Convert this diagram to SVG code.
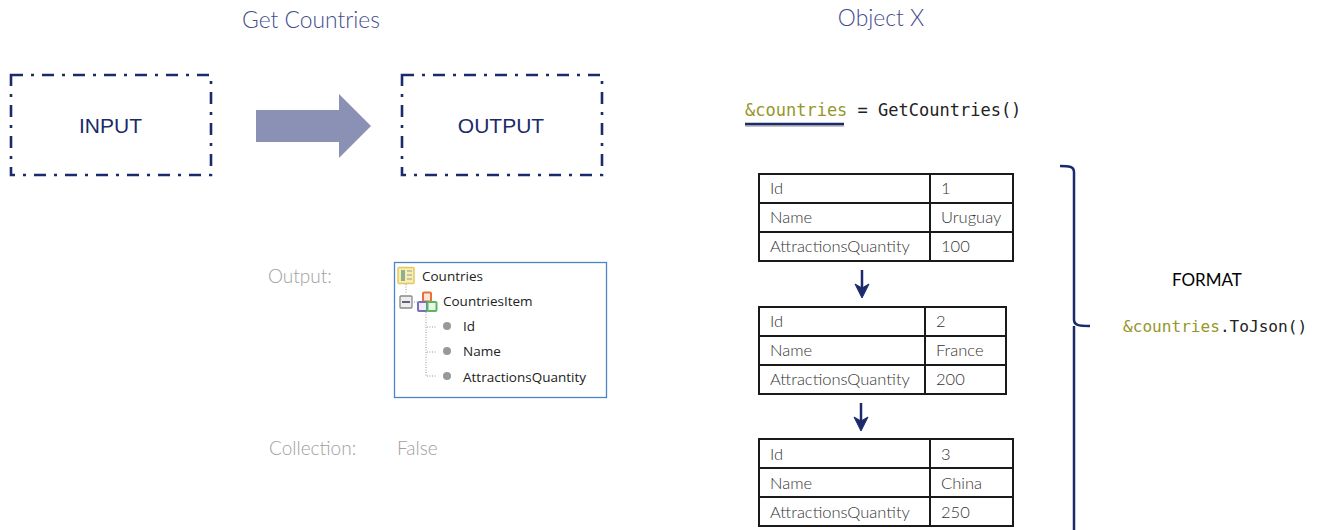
<svg xmlns="http://www.w3.org/2000/svg" width="1320" height="530" viewBox="0 0 1320 530">
<style>
text{font-family:"Lato","Liberation Sans",sans-serif}
.h{font-size:22.800px;fill:#3f4b8c;font-weight:300;opacity:.99}
.box{fill:none;stroke:#1b2a6b;stroke-width:2.600;stroke-dasharray:12 8 3 8}
.lb{font-family:"Liberation Sans",Arial,sans-serif;font-size:21px;fill:#1b2a6b}
.g{font-size:19px;fill:#a0a0a0;font-weight:300;opacity:.99}
.t{font-size:16.500px;fill:#333;font-weight:300;opacity:.99}
.cell{fill:none;stroke:#1a1a1a;stroke-width:2}
.tree{font-family:"Open Sans","Liberation Sans",sans-serif;font-size:13.500px;fill:#222}
.code{font-family:"DejaVu Sans Mono",monospace;font-size:17px;fill:#222}
.small{font-size:16.100px}
.var{fill:#96962a}
.dot{fill:#999}
.lnk{fill:none;stroke:#1b2a6b;stroke-width:2.500}
.dots{fill:none;stroke:#999;stroke-width:1;stroke-dasharray:1 1.500}
</style>
<text class="h" x="311" y="28" text-anchor="middle">Get Countries</text>
<text class="h" x="881" y="26" text-anchor="middle">Object X</text>
<g id="input"><rect class="box" x="11" y="75" width="200" height="100"/><text class="lb" x="110.500" y="133" text-anchor="middle">INPUT</text></g>
<g id="output"><rect class="box" x="402" y="75" width="200" height="100"/><text class="lb" x="501" y="133" text-anchor="middle">OUTPUT</text></g>
<g id="connectors">
<polygon points="256,110 339,110 339,94 371,126 339,158 339,142 256,142" fill="#8a91b5"/>
<path class="lnk" d="M862 270V292"/><path d="M855 284L862 298L869 284L862 288Z" fill="#1b2a6b" stroke="#1b2a6b"/>
<path class="lnk" d="M861 403V425"/><path d="M854 417L861 431L868 417L861 421Z" fill="#1b2a6b" stroke="#1b2a6b"/>
<path d="M745 126H844" stroke="#c4c4c8" stroke-width="2" fill="none"/>
<path class="lnk" d="M745 124H844"/>
<path class="lnk" d="M1060 166C1068 166 1074 166 1074 172V320C1074 325 1078 326 1090 326M1074 326C1074 328 1074 330 1074 335V530"/>
</g>
<g id="output-label"><text class="g" x="268" y="283">Output:</text></g>
<g id="collection-label"><text class="g" x="269" y="455">Collection:</text><text class="g" x="397" y="455">False</text></g>
<g id="tree">
<rect x="394.500" y="262.500" width="212" height="135" fill="#fff" stroke="#4a86c8" stroke-width="1.300"/>
<rect x="398" y="267.500" width="16" height="16" rx="1" fill="#f7eeb0" stroke="#e6c860" stroke-width="1.500"/>
<rect x="401" y="270" width="4" height="11" fill="#8fb08f"/><path d="M407 271h5M407 275h5M407 279h5" stroke="#999"/>
<text class="tree" x="422" y="281">Countries</text>
<path class="dots" d="M406 284V293M414 302H417M426 312V376H437M427 327H437M427 352H437"/>
<rect x="400" y="296" width="12" height="12" rx="1" fill="#eee" stroke="#888" stroke-width="1.300"/><path d="M402 302H410" stroke="#335" stroke-width="1.500"/>
<rect x="423" y="292.500" width="8" height="9" rx="1" fill="#fbe6da" stroke="#e8703a" stroke-width="2"/>
<rect x="418" y="302" width="9" height="9" rx="1" fill="#eeecf8" stroke="#7a70b8" stroke-width="2"/>
<rect x="427.500" y="302" width="9" height="9" rx="1" fill="#e8f6e8" stroke="#5ab85a" stroke-width="2"/>
<text class="tree" x="443" y="306">CountriesItem</text>
<circle class="dot" cx="447" cy="326" r="4"/><text class="tree" x="463" y="331">Id</text>
<circle class="dot" cx="447" cy="351" r="4"/><text class="tree" x="463" y="356">Name</text>
<circle class="dot" cx="447" cy="376" r="4"/><text class="tree" x="463" y="382">AttractionsQuantity</text>
</g>
<g id="assign"><text class="code" x="745" y="116"><tspan class="var">&amp;countries</tspan> = GetCountries()</text></g>
<g id="table1">
<rect class="cell" x="759" y="174" width="254" height="87"/><path class="cell" d="M759 203H1013M759 232H1013M930 174V261"/>
<text class="t" x="770" y="194">Id</text><text class="t" x="941" y="194">1</text>
<text class="t" x="770" y="223">Name</text><text class="t" x="941" y="223">Uruguay</text>
<text class="t" x="770" y="252">AttractionsQuantity</text><text class="t" x="941" y="252">100</text>
</g>
<g id="table2">
<rect class="cell" x="759" y="307" width="247" height="87"/><path class="cell" d="M759 336H1006M759 365H1006M925 307V394"/>
<text class="t" x="770" y="327">Id</text><text class="t" x="936" y="327">2</text>
<text class="t" x="770" y="356">Name</text><text class="t" x="936" y="356">France</text>
<text class="t" x="770" y="385">AttractionsQuantity</text><text class="t" x="936" y="385">200</text>
</g>
<g id="table3">
<rect class="cell" x="759" y="439" width="254" height="87"/><path class="cell" d="M759 468H1013M759 497H1013M930 439V526"/>
<text class="t" x="770" y="460">Id</text><text class="t" x="941" y="460">3</text>
<text class="t" x="770" y="489">Name</text><text class="t" x="941" y="489">China</text>
<text class="t" x="770" y="518">AttractionsQuantity</text><text class="t" x="941" y="518">250</text>
</g>
<g id="format"><text x="1172" y="286" font-size="17" fill="#000">FORMAT</text>
<text class="code small" x="1123" y="332"><tspan class="var">&amp;countries</tspan>.ToJson()</text></g>
</svg>
